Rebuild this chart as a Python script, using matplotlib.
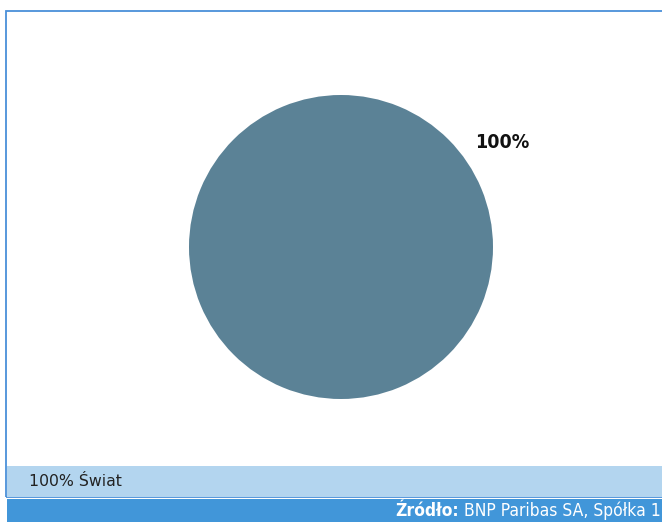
import matplotlib
matplotlib.use("Agg")
import matplotlib.pyplot as plt
from matplotlib.patches import Rectangle

categories = ["Świat"]
values = [100]
pie_labels = ["100%"]
legend_text = "100% Świat"
source_bold = "Źródło:"
source_rest = " BNP Paribas SA, Spółka 1"

W, H = 662, 522
fig = plt.figure(figsize=(W/100, H/100), dpi=100)
fig.patch.set_facecolor("white")

def fx(px): return px / W
def fy(py): return 1 - py / H

# frame
fig.add_artist(Rectangle((fx(6), fy(497)), fx(700) - fx(6), fy(11) - fy(497),
                         transform=fig.transFigure, fill=False,
                         edgecolor="#4a90d9", linewidth=1.3))
# light band
fig.add_artist(Rectangle((fx(7), fy(497)), 1, fy(466) - fy(497),
                         transform=fig.transFigure, facecolor="#b3d5ef",
                         edgecolor="none"))
# dark band
fig.add_artist(Rectangle((fx(7), 0), 1, fy(499),
                         transform=fig.transFigure, facecolor="#4196d9",
                         edgecolor="none"))

# pie
r = 152
cx, cy = 341, 247
ax = fig.add_axes([fx(cx - r), fy(cy + r), 2 * r / W, 2 * r / H])
ax.pie(values, colors=["#5b8296"], startangle=90, radius=1,
       wedgeprops=dict(linewidth=0))
ax.set_xlim(-1, 1)
ax.set_ylim(-1, 1)
ax.set_aspect("auto")
ax.axis("off")

fig.text(fx(502), fy(142), pie_labels[0], ha="center", va="center",
         fontsize=14, fontweight="semibold", color="#111111", family="DejaVu Sans",
         stretch="condensed")

fig.text(fx(29), fy(482), legend_text, ha="left", va="center",
         fontsize=11.3, color="#222222", family="DejaVu Sans")

t2 = fig.text(fx(661), fy(511), source_rest, ha="right", va="center",
              fontsize=12.5, color="white", family="DejaVu Sans", stretch="condensed")
fig.canvas.draw()
bb = t2.get_window_extent()
fig.text(bb.x0 / W, fy(511), source_bold, ha="right", va="center",
         fontsize=12.5, color="white", fontweight="bold",
         family="DejaVu Sans", stretch="condensed")

fig.savefig("out.png", dpi=100)
